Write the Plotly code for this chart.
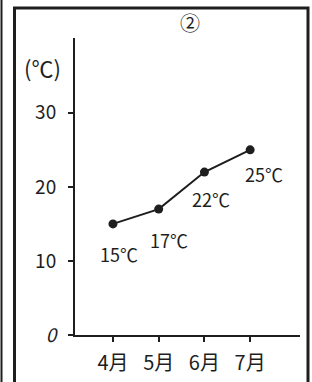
import plotly.graph_objects as go

months = ["4月", "5月", "6月", "7月"]
temps = [15, 17, 22, 25]
label_texts = ["15℃", "17℃", "22℃", "25℃"]
y_tickvals = [0, 10, 20, 30]
y_ticktext = ["<i>0</i>", "10", "20", "30"]

# label offsets (pixels) for the handwritten value labels
label_dx = [6, 10, 7, 14]
label_dy = [-30, -31, -27, -24]

W, H = 312, 382
L, R, T, B = 75, 12, 38, 47
PW, PH = W - L - R, H - T - B


def px(x):
    return (x - L) / PW


def py(y):
    return (H - B - y) / PH


FONT = "Noto Sans CJK JP, DejaVu Sans, sans-serif"
INK = "#1e1e1e"

fig = go.Figure()
fig.add_trace(go.Scatter(
    x=months, y=temps, mode="lines+markers",
    line=dict(color=INK, width=2),
    marker=dict(color=INK, size=9),
    hoverinfo="skip", showlegend=False,
))

annotations = []
for m, t, s, dx, dy in zip(months, temps, label_texts, label_dx, label_dy):
    annotations.append(dict(x=m, y=t, text=s, showarrow=False,
                            xshift=dx, yshift=dy,
                            font=dict(family=FONT, size=18, color=INK)))
annotations.append(dict(xref="paper", yref="paper", x=px(190), y=py(22),
                        xanchor="center", yanchor="middle",
                        text="②", showarrow=False,
                        font=dict(family=FONT, size=20, color=INK)))
annotations.append(dict(xref="paper", yref="paper", x=px(42), y=py(67),
                        xanchor="center", yanchor="middle",
                        text="(℃)", showarrow=False,
                        font=dict(family=FONT, size=22, color=INK)))

shapes = [
    dict(type="rect", xref="paper", yref="paper",
         x0=px(14.5), x1=px(308), y0=py(8), y1=py(400),
         line=dict(color=INK, width=3)),
    dict(type="line", xref="paper", yref="paper",
         x0=px(1.5), x1=px(1.5), y0=py(0), y1=py(382),
         line=dict(color=INK, width=2)),
]

fig.update_layout(
    width=W, height=H,
    margin=dict(l=L, r=R, t=T, b=B, autoexpand=False),
    paper_bgcolor="white", plot_bgcolor="white",
    annotations=annotations, shapes=shapes,
    xaxis=dict(type="category", range=[-0.83, 4.09], automargin=False,
               showline=True, linecolor=INK, linewidth=2,
               showgrid=False, zeroline=False,
               ticks="outside", ticklen=5, tickwidth=2, tickcolor=INK,
               ticklabelstandoff=4,
               tickfont=dict(family=FONT, size=20, color=INK)),
    yaxis=dict(range=[0, 40.1], tickvals=y_tickvals, ticktext=y_ticktext,
               automargin=False,
               showline=True, linecolor=INK, linewidth=2,
               showgrid=False, zeroline=False,
               ticks="outside", ticklen=5, tickwidth=2, tickcolor=INK,
               ticklabelstandoff=8,
               tickfont=dict(family=FONT, size=19, color=INK)),
)

fig.write_html("out.html",
               config={"displayModeBar": False},
               post_script="document.body.style.margin='0';document.body.style.overflow='hidden';")
